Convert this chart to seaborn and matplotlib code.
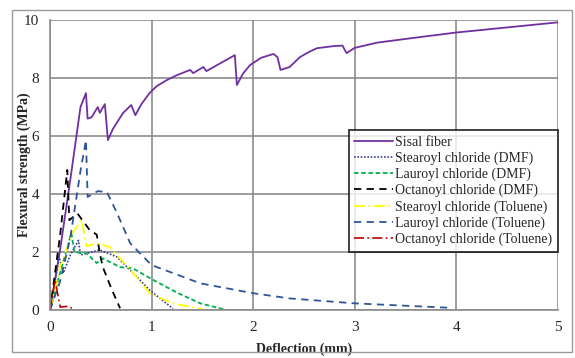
import matplotlib
matplotlib.use("Agg")
import matplotlib.pyplot as plt
from matplotlib.patches import Rectangle
import seaborn as sns
import pandas as pd

# Flexural strength vs deflection for untreated and acyl-chloride-treated fibres
sisal_x = [0, 0.1, 0.2, 0.3, 0.354, 0.37, 0.41, 0.47, 0.49, 0.54, 0.57, 0.62, 0.72,
           0.8, 0.84, 0.9, 0.98, 1.05, 1.15, 1.25, 1.38, 1.41, 1.51, 1.54, 1.82, 1.84,
           1.9, 1.97, 2.08, 2.2, 2.24, 2.27, 2.36, 2.46, 2.55, 2.63, 2.79, 2.88, 2.92,
           3.0, 3.22, 3.57, 4.0, 5.0]
sisal_y = [0, 2.1, 4.5, 7.0, 7.48, 6.6, 6.65, 7.0, 6.8, 7.1, 5.86, 6.25, 6.8,
           7.07, 6.72, 7.1, 7.48, 7.72, 7.93, 8.1, 8.28, 8.17, 8.38, 8.24, 8.79, 7.76,
           8.15, 8.45, 8.7, 8.83, 8.72, 8.28, 8.38, 8.72, 8.9, 9.03, 9.1, 9.12, 8.86,
           9.04, 9.22, 9.38, 9.57, 9.92]

stear_dmf_x = [0, 0.05, 0.09, 0.13, 0.2, 0.28, 0.3, 0.49, 0.66, 0.82, 0.98, 1.21]
stear_dmf_y = [0, 1.0, 1.85, 1.27, 1.9, 2.4, 1.9, 2.07, 1.83, 1.27, 0.69, 0.05]

laur_dmf_x = [0, 0.1, 0.21, 0.24, 0.36, 0.46, 0.52, 0.69, 0.82, 1.02, 1.25, 1.48, 1.74]
laur_dmf_y = [0, 1.3, 2.65, 2.0, 1.95, 1.62, 1.78, 1.48, 1.43, 1.03, 0.6, 0.23, 0]

oct_dmf_x = [0, 0.1, 0.17, 0.19, 0.27, 0.39, 0.46, 0.49, 0.52, 0.61, 0.69]
oct_dmf_y = [0, 2.6, 4.83, 3.1, 3.33, 2.76, 2.6, 1.96, 1.48, 0.69, 0.06]

stear_tol_x = [0, 0.1, 0.23, 0.31, 0.36, 0.46, 0.59, 0.82, 0.98, 1.21, 1.5]
stear_tol_y = [0, 1.5, 2.7, 3.1, 2.2, 2.3, 2.17, 1.27, 0.58, 0.23, 0.03]

laur_tol_x = [0, 0.1, 0.2, 0.3, 0.354, 0.37, 0.47, 0.56, 0.66, 0.79, 1.0, 1.48, 2.0,
              2.36, 3.0, 3.92]
laur_tol_y = [0, 1.0, 2.5, 4.8, 5.86, 3.9, 4.1, 4.07, 3.34, 2.3, 1.55, 0.92, 0.58,
              0.4, 0.23, 0.08]

oct_tol_x = [0, 0.05, 0.1, 0.18, 0.23]
oct_tol_y = [0, 1.03, 0.1, 0.13, 0.03]

labels = ["Sisal fiber", "Stearoyl chloride (DMF)", "Lauroyl chloride (DMF)",
          "Octanoyl chloride (DMF)", "Stearoyl chloride (Toluene)",
          "Lauroyl chloride (Toluene)", "Octanoyl chloride (Toluene)"]
series = [(sisal_x, sisal_y), (stear_dmf_x, stear_dmf_y), (laur_dmf_x, laur_dmf_y),
          (oct_dmf_x, oct_dmf_y), (stear_tol_x, stear_tol_y), (laur_tol_x, laur_tol_y),
          (oct_tol_x, oct_tol_y)]
colors = ["#7030A0", "#3B3F8F", "#00B050", "#000000", "#FFFF00", "#2F5597", "#C00000"]
styles = ["-", (0, (1, 1)), (0, (2.5, 1.5)), (0, (4, 3)), (0, (6, 2, 1, 2)),
          (0, (4, 3)), (0, (6, 2, 1, 2))]
widths = [1.3, 1.2, 1.3, 1.3, 1.3, 1.3, 1.2]

sns.set_style("white")
plt.rcParams["font.family"] = ["Liberation Serif", "DejaVu Serif"]

fig = plt.figure(figsize=(5.75, 3.58), dpi=100)
ax = fig.add_axes([0.087, 0.134, 0.883, 0.81])

# thin grey frame around the whole figure
fig.patches.append(Rectangle((12 / 575, 6 / 358), 560 / 575, 342 / 358,
                             transform=fig.transFigure, fill=False,
                             edgecolor="#9a9a9a", linewidth=1.0))

for (xs, ys), lab, c, ls, lw in zip(series, labels, colors, styles, widths):
    df = pd.DataFrame({"Deflection": xs, "Strength": ys})
    sns.lineplot(data=df, x="Deflection", y="Strength", ax=ax, color=c,
                 linestyle=ls, linewidth=lw, label=lab, estimator=None, sort=False)

ax.set_xlim(0, 5)
ax.set_ylim(0, 10)
ax.set_xticks(range(0, 6))
ax.set_yticks(range(0, 11, 2))
ax.grid(True, color="#8c8c8c", linewidth=1.2)
ax.set_axisbelow(True)
for s in ["top", "right"]:
    ax.spines[s].set_visible(False)
for s in ["left", "bottom"]:
    ax.spines[s].set_color("#8c8c8c")
    ax.spines[s].set_linewidth(1.2)
ax.tick_params(axis="both", labelsize=11, length=4, color="#8c8c8c", direction="out",
               pad=4)
ax.set_xlabel("Deflection (mm)", fontsize=10, fontweight="bold", labelpad=6)
ax.set_ylabel("Flexural strength (MPa)", fontsize=10, fontweight="bold")
ax.yaxis.set_label_coords(-0.038, 0.5)

leg = ax.legend(loc="upper right", bbox_to_anchor=(1.0, 0.621), fontsize=10,
                frameon=True, fancybox=False, handlelength=2.8, handletextpad=0.15,
                borderpad=0.4, labelspacing=0.2, borderaxespad=0)
leg.get_frame().set_edgecolor("black")
leg.get_frame().set_linewidth(1.3)

fig.savefig("out.png", dpi=100)
